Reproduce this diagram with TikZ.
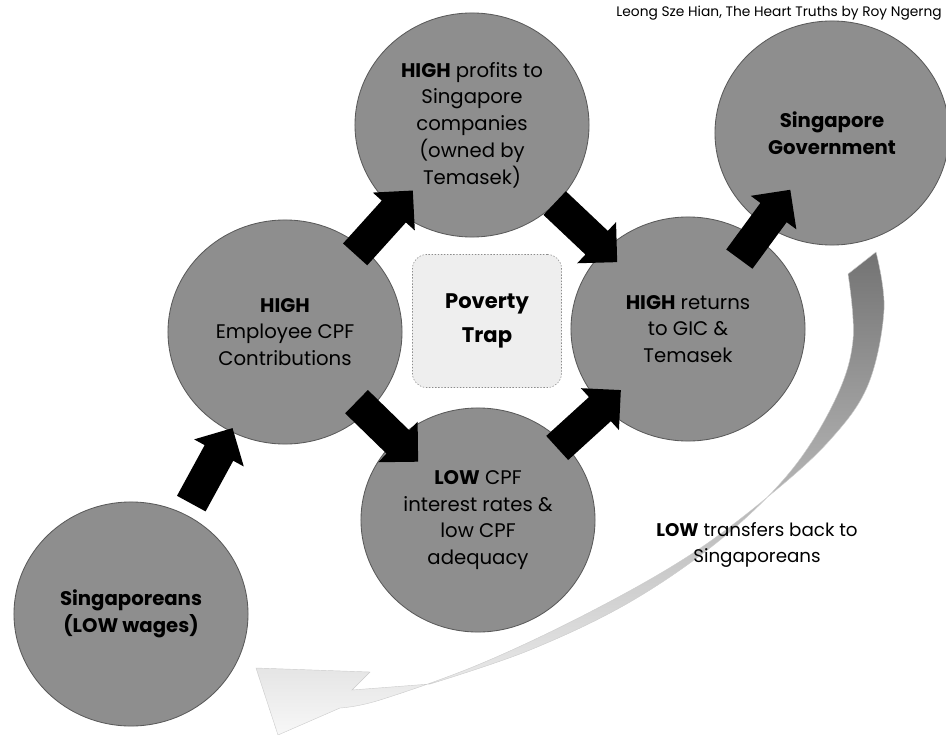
\documentclass[tikz,border=0pt]{standalone}
\usepackage{fontspec}
\setmainfont{Poppins}
\usetikzlibrary{shapes.geometric,shapes.arrows}
\definecolor{bubbleclr}{RGB}{142,142,142}
\definecolor{rimclr}{RGB}{90,90,90}
\definecolor{trapbg}{RGB}{238,238,238}
\definecolor{trapline}{RGB}{140,140,140}
\definecolor{bandclr}{RGB}{115,115,115}

\begin{document}
\begin{tikzpicture}[x=0.025cm, y=-0.025cm,
  bubble/.style={ellipse, fill=bubbleclr, draw=rimclr, line width=0.6pt,
        minimum width=5.85cm, minimum height=5.6cm, inner sep=0pt, align=center,
        font=\fontsize{14}{19}\selectfont},
  blockarrow/.style={single arrow, fill=black, draw=none, sloped,
        minimum height=2.15cm, inner xsep=0pt, inner ysep=0.4cm,
        single arrow head extend=0.3cm, single arrow head indent=0pt}]
  \useasboundingbox (0,0) rectangle (946,735);

  \node[anchor=east, inner sep=0pt, font=\fontsize{9.8}{12}\selectfont] (credit) at (942,13)
    {Leong Sze Hian, The Heart Truths by Roy Ngerng};

  % fading return band
  \shade[top color=bandclr, middle color=black!30, bottom color=black!3, draw=black!20, line width=0.3pt]
    plot[smooth, tension=0.6] coordinates {(876,252) (884,310) (868,385) (830,440) (770,495)
        (690,555) (590,612) (480,664) (380,700) (340,708)}
    -- (278,735) -- (256,668) -- (370,672) -- (352,690)
    -- plot[smooth, tension=0.6] coordinates {(430,684) (530,650) (630,602) (720,540)
        (790,472) (835,400) (853,340) (848,274)}
    -- cycle;

  \node[bubble] (sing) at (131,614) {\textbf{Singaporeans}\\\textbf{(LOW wages)}};
  \node[bubble] (empl) at (285,332) {\textbf{HIGH}\\Employee CPF\\Contributions};
  \node[bubble] (prof) at (472,125) {\textbf{HIGH} profits to\\Singapore\\companies\\(owned by\\Temasek)};
  \node[bubble] (ret)  at (688,329) {\textbf{HIGH} returns\\to GIC \&\\Temasek};
  \node[bubble] (low)  at (478,520) {\textbf{LOW} CPF\\interest rates \&\\low CPF\\adequacy};
  \node[bubble] (gov)  at (832,133) {\textbf{Singapore}\\\textbf{Government}};

  \node[fill=trapbg, draw=trapline, dash pattern=on 1pt off 1.2pt, rounded corners=10pt,
        minimum width=3.725cm, minimum height=3.325cm, align=center,
        font=\fontsize{15}{24}\selectfont\bfseries] (trap) at (487,321) {Poverty\\Trap};

  \path (sing) -- node[blockarrow] (a1) {} (empl);
  \path (empl) -- node[blockarrow] (a2) {} (prof);
  \path (prof) -- node[blockarrow] (a3) {} (ret);
  \path (empl) -- node[blockarrow] (a4) {} (low);
  \path (low)  -- node[blockarrow] (a5) {} (ret);
  \path (ret)  -- node[blockarrow] (a6) {} (gov);

  \node[align=center, font=\fontsize{13}{18}\selectfont] (back) at (757,545)
    {\textbf{LOW} transfers back to\\Singaporeans};
\end{tikzpicture}
\end{document}
